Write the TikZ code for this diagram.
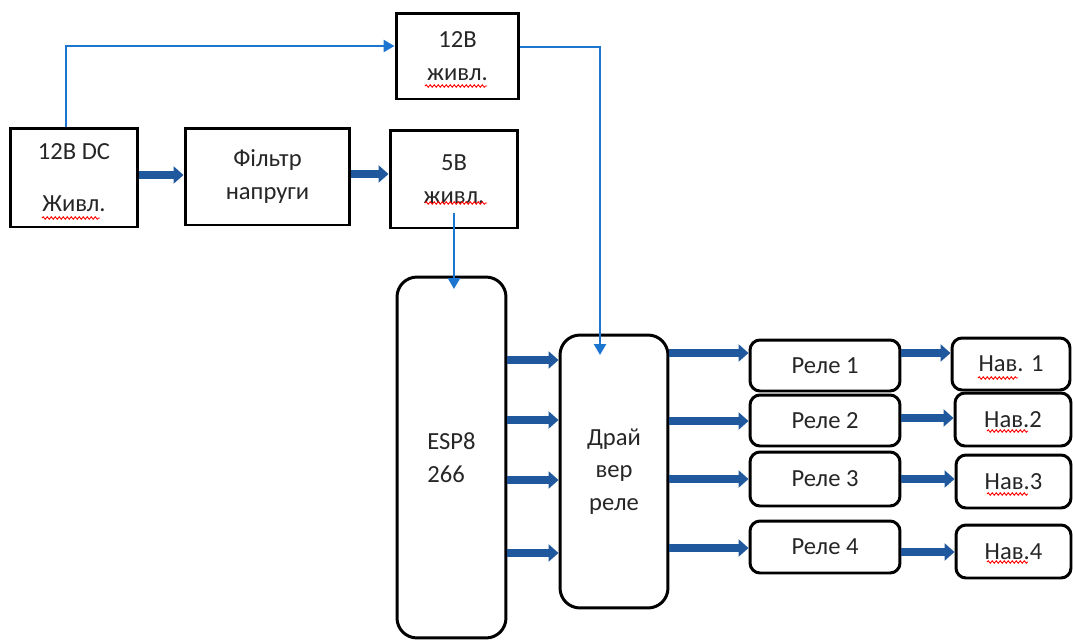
\documentclass[tikz,border=0pt]{standalone}
\usepackage{fontspec}
\setmainfont{Carlito}
\usetikzlibrary{arrows.meta,decorations.pathmorphing}
\definecolor{busblue}{RGB}{31,88,156}
\definecolor{feedblue}{RGB}{28,117,206}
\definecolor{txtgray}{RGB}{38,38,38}
\begin{document}
\begin{tikzpicture}[x=0.02cm, y=-0.02cm,
  box/.style={draw=black, line width=1.7pt, text=txtgray, align=center, inner sep=0pt, font=\fontsize{14}{18.5}\selectfont},
  rbox/.style={box, rounded corners=0.2cm},
  bigbox/.style={box, rounded corners=0.4cm},
  bus/.style={draw=busblue, line width=4pt, -{Triangle[length=0.2cm,width=0.34cm]}},
  feed/.style={draw=feedblue, line width=1.4pt, -{Triangle[length=0.22cm,width=0.24cm]}},
  spell/.style={draw=red, line width=0.5pt, decorate, decoration={snake, segment length=0.08cm, amplitude=0.025cm}}]
\useasboundingbox (0,0) rectangle (1073,640);

% power part
\node[box, minimum width=2.56cm, minimum height=1.98cm] (dc) at (74,177.5) {12В DC\\[0.38cm]Живл.};
\node[box, minimum width=3.3cm, minimum height=1.94cm] (filt) at (267.5,176.5) {Фільтр\\напруги};
\node[box, minimum width=2.56cm, minimum height=1.96cm] (five) at (454,179) {5В\\живл.};
\node[box, minimum width=2.46cm, minimum height=1.72cm] (twelve) at (457.5,56) {12В\\живл.};

% control part
\node[bigbox, minimum width=2.18cm, minimum height=7.22cm, align=left] (esp) at (451.5,457.5) {ESP8\\266};
\node[bigbox, minimum width=2.16cm, minimum height=5.46cm] (drv) at (614,471.5) {Драй\\вер\\реле};

% relays and loads
\node[rbox, minimum width=3cm, minimum height=1.02cm] (r1) at (825,365.5) {Реле 1};
\node[rbox, minimum width=3cm, minimum height=1.02cm] (r2) at (825,420.5) {Реле 2};
\node[rbox, minimum width=3cm, minimum height=1.08cm] (r3) at (825,479) {Реле 3};
\node[rbox, minimum width=3cm, minimum height=1.04cm] (r4) at (825,547) {Реле 4};
\node[rbox, minimum width=2.36cm, minimum height=1.04cm] (n1) at (1011,364) {Нав. 1};
\node[rbox, minimum width=2.32cm, minimum height=1.06cm] (n2) at (1013,419.5) {Нав.2};
\node[rbox, minimum width=2.3cm, minimum height=1.06cm] (n3) at (1013.5,481.5) {Нав.3};
\node[rbox, minimum width=2.3cm, minimum height=1.06cm] (n4) at (1013.5,551.5) {Нав.4};

% spell checker marks
\draw[spell] (42,218) -- (100,218);
\draw[spell] (425,86) -- (487,86);
\draw[spell] (425,203) -- (487,203);
\draw[spell] (978,378) -- (1018,378);
\foreach \y in {431,494,562}
  \draw[spell] (987,\y) -- (1028,\y);

% thin supply lines
\coordinate (c1) at (66,46);
\coordinate (c2) at (600,47);
\coordinate (c3) at (600,355);
\coordinate (c4) at (454,213);
\coordinate (c5) at (454,289);
\draw[feed] (dc.north -| c1) -- (c1) -- (c1 -| twelve.west);
\draw[feed] (twelve.east |- c2) -- (c2) -- (c3);
\draw[feed] (c4) -- (c5);

% thick arrows
\draw[bus] (dc.east |- 0,175) -- (filt.west |- 0,175);
\draw[bus] (filt.east |- 0,174) -- (five.west |- 0,174);
\foreach \y in {360,420,480,553}
  \draw[bus] (esp.east |- 0,\y) -- (drv.west |- 0,\y);
\foreach \i/\a/\b in {1/353/353, 2/421/418, 3/479/479, 4/548/552} {
  \draw[bus] (drv.east |- 0,\a) -- (r\i.west |- 0,\a);
  \draw[bus] (r\i.east |- 0,\b) -- (n\i.west |- 0,\b);
}
\end{tikzpicture}
\end{document}
